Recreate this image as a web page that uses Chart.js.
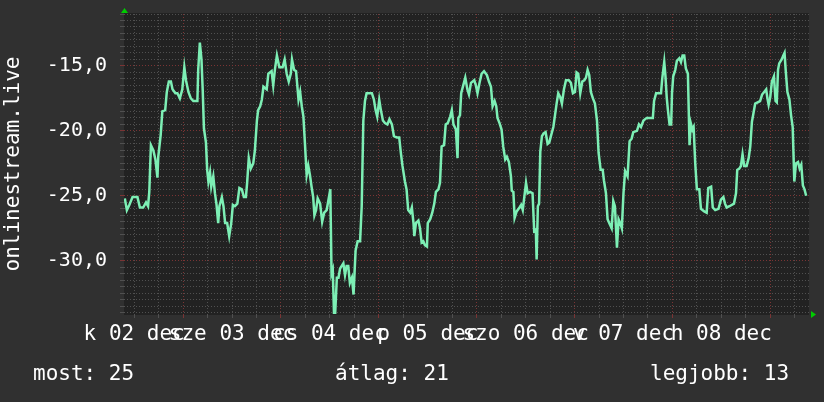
<!DOCTYPE html>
<html>
<head>
<meta charset="utf-8">
<script src="https://cdn.jsdelivr.net/npm/chart.js@4.4.1/dist/chart.umd.min.js"></script>
<style>
  html, body { margin: 0; padding: 0; background: #303030; }
  #wrap { position: relative; width: 824px; height: 402px; }
  canvas { display: block; }
  .stat { position: absolute; top: 363px; font: 21px/1 "DejaVu Sans Mono", monospace; color: #fff; white-space: pre; }
</style>
</head>
<body>
<div id="wrap">
  <canvas id="grafica" width="824" height="402"></canvas>
  <div class="stat" id="stat0" style="left:33px"></div>
  <div class="stat" id="stat1" style="left:335px"></div>
  <div class="stat" id="stat2" style="left:650px"></div>
</div>
<script>
// hours since 2 dec 00:00
const hours = [
  9.7,10.2,10.8,11.6,12.8,13.4,14.2,14.9,15.4,15.7,16.1,16.7,17.2,17.7,17.9,18.5,18.9,19.6,20.0,20.5,
  21.0,21.4,22.1,22.6,23.2,23.8,24.3,24.7,25.3,25.9,26.5,27.5,27.7,28.1,28.5,28.8,29.1,29.6,29.9,30.2,
  30.6,30.9,31.4,31.8,32.2,32.6,32.9,33.5,33.9,34.3,34.8,35.3,35.8,36.2,36.7,37.3,37.8,38.4,38.9,39.4,
  39.7,40.1,40.6,41.2,41.6,42.1,42.4,42.9,43.3,43.7,44.5,44.9,45.7,46.1,46.5,47.0,47.6,48.4,48.9,49.4,
  49.9,50.4,50.7,51.2,51.7,52.3,
  52.7,53.1,53.5,53.9,54.3,54.7,55.1,55.5,55.9,56.2,56.6,57.0,57.6,58.1,58.6,59.2,59.6,60.1,60.4,60.7,
  61.0,61.3,61.7,62.1,62.5,62.9,63.3,63.7,64.1,64.5,64.9,65.4,65.8,66.0,66.3,66.8,67.4,67.8,68.2,68.6,
  69.0,69.6,70.3,70.8,71.2,71.6,72.1,72.5,73.0,73.5,74.1,74.6,75.2,75.7,76.4,77.0,77.4,77.8,78.4,78.8,
  79.2,79.7,80.1,80.5,80.7,81.1,81.7,82.1,82.5,82.9,83.3,83.8,84.0,84.6,85.1,85.6,86.0,86.6,87.0,87.4,
  88.0,88.4,88.9,89.5,89.9,90.3,90.9,91.3,91.5,91.9,92.2,92.7,93.2,93.7,94.1,94.6,
  95.4,95.8,96.2,96.7,97.2,97.8,98.5,99.0,99.5,99.9,100.4,100.8,101.1,101.6,102.1,102.5,103.0,103.4,103.9,104.4,
  104.6,105.0,105.3,105.8,106.5,106.9,107.3,107.6,108.1,108.5,109.1,109.7,110.1,110.5,110.7,111.0,111.3,111.6,112.0,112.4,
  112.9,113.4,113.8,114.2,114.8,115.2,115.6,116.0,116.5,116.9,117.4,117.9,118.6,119.1,119.6,120.1,120.5,120.9,121.4,121.9,
  122.4,122.8,123.2,123.6,124.0,124.5,125.0,125.5,125.9,126.4,126.9,127.2,127.7,128.1,128.5,129.1,129.5,129.9,130.4,130.8,
  131.2,131.6,132.0,132.4,133.0,133.5,134.0,134.4,135.3,135.8,136.3,136.9,
  137.7,139.2,139.5,140.0,140.6,141.2,141.5,142.0,142.3,142.6,142.9,143.3,143.7,143.9,144.2,144.7,145.1,145.7,146.1,146.5,
  146.9,147.3,147.8,148.2,148.5,148.9,149.2,149.6,150.0,150.6,151.0,151.8,152.4,152.8,153.5,153.9,154.5,155.3,155.9,156.5,
  156.9,157.3,158.0,159.1,159.6,159.9,160.4,160.8,161.2,161.6,162.2,162.7,163.1,163.5,163.9,164.3,164.9,165.5,166.0,166.5,
  167.0,167.3,167.6,168.0,168.4,168.9,169.3,169.6,169.9,170.2,170.8,171.2,171.5,171.8,172.2,172.7,173.1,173.5,173.9,174.3,
  174.8,175.2,175.6,176.0,176.4,176.8
];

const valores = [
  -25.2,-26.1,-25.7,-25.1,-25.1,-25.9,-25.9,-25.5,-25.8,-24.7,-21.1,-21.5,-22.2,-23.6,-22.0,-20.3,-18.5,-18.4,-17.0,-16.2,
  -16.2,-16.8,-17.1,-17.1,-17.5,-16.8,-15.1,-16.1,-17.0,-17.5,-17.7,-17.7,-15.3,-13.2,-14.5,-16.8,-19.8,-20.9,-23.0,-23.9,
  -23.2,-24.3,-23.5,-24.8,-25.7,-27.1,-25.8,-25.1,-25.8,-27.1,-27.1,-28.1,-27.1,-25.7,-25.8,-25.6,-24.4,-24.5,-25.1,-25.1,
  -24.0,-22.1,-22.9,-22.5,-21.5,-19.2,-18.4,-18.1,-17.6,-16.6,-16.8,-15.6,-15.4,-16.5,-15.3,-14.2,-15.1,-15.1,-14.5,-15.6,
  -16.2,-15.6,-14.5,-15.3,-15.4,-17.6,
  -17.0,-18.1,-18.9,-21.1,-23.4,-22.7,-23.4,-24.3,-25.1,-26.5,-26.1,-25.2,-25.6,-27.0,-26.3,-26.1,-25.4,-24.5,-31.0,-30.7,
  -34.0,-34.0,-31.3,-31.3,-30.6,-30.4,-30.2,-31.1,-30.4,-30.4,-31.7,-31.3,-32.6,-31.2,-29.2,-28.5,-28.5,-25.8,-19.2,-17.7,
  -17.1,-17.1,-17.1,-17.6,-18.4,-18.9,-17.6,-18.4,-19.2,-19.4,-19.5,-19.1,-19.5,-20.4,-20.5,-20.5,-21.7,-22.7,-23.9,-24.5,
  -26.1,-26.3,-25.9,-27.1,-28.1,-27.1,-26.9,-27.5,-28.6,-28.5,-28.8,-28.9,-27.1,-26.8,-26.3,-25.6,-24.7,-24.5,-24.0,-21.2,
  -21.1,-19.5,-19.4,-18.9,-18.4,-19.5,-19.9,-22.1,-19.0,-18.8,-17.1,-16.5,-15.9,-16.8,-17.2,-16.3,
  -16.1,-16.5,-17.1,-16.3,-15.6,-15.4,-15.7,-16.2,-16.6,-18.1,-17.7,-18.1,-19.0,-19.4,-19.9,-21.2,-22.2,-22.0,-22.4,-23.5,
  -24.6,-24.7,-26.7,-26.2,-25.9,-25.7,-26.1,-25.3,-24.0,-24.8,-24.7,-24.8,-27.7,-27.6,-29.9,-25.8,-25.6,-21.6,-20.4,-20.2,
  -20.1,-21.0,-20.9,-20.4,-19.7,-18.8,-17.9,-17.1,-17.4,-17.9,-16.8,-16.1,-16.1,-16.3,-17.1,-17.0,-15.5,-15.6,-17.1,-16.2,
  -16.1,-15.9,-15.3,-15.7,-17.0,-17.5,-17.9,-19.2,-21.7,-23.0,-23.0,-23.8,-24.8,-26.8,-27.1,-27.5,-25.4,-25.8,-29.0,-26.8,
  -27.1,-27.5,-24.8,-23.1,-23.5,-20.8,-20.6,-20.1,-20.0,-19.5,-19.7,-19.2,
  -19.0,-19.0,-17.7,-17.1,-17.1,-17.1,-16.0,-14.7,-15.8,-17.4,-18.4,-19.5,-19.5,-17.1,-15.8,-15.3,-14.6,-14.4,-14.7,-14.2,
  -14.2,-15.2,-15.6,-21.1,-19.4,-19.9,-19.7,-22.5,-24.5,-24.5,-26.0,-26.2,-26.3,-24.4,-24.3,-25.9,-26.1,-26.0,-25.3,-25.1,
  -25.6,-25.9,-25.8,-25.6,-24.8,-23.0,-22.9,-22.7,-21.8,-22.7,-22.7,-22.1,-21.2,-19.3,-18.6,-17.9,-17.8,-17.7,-17.2,-17.0,
  -16.8,-17.5,-18.0,-17.4,-16.2,-15.8,-17.7,-17.8,-15.3,-14.8,-14.5,-14.2,-14.0,-15.4,-17.0,-17.6,-18.8,-19.7,-23.9,-22.5,
  -22.4,-22.9,-22.6,-24.2,-24.5,-25.0
];

// x tick labels (noon of each day)
const diasHoras = [12, 36, 60, 84, 108, 132, 156];
const diasLabels = ['k 02 dec', 'sze 03 dec', 'cs 04 dec', 'p 05 dec', 'szo 06 dec', 'v 07 dec', 'h 08 dec'];

// y tick labels
const yMayores = [-15, -20, -25, -30];
const yLabels = ['-15,0', '-20,0', '-25,0', '-30,0'];

const statLabels = ['most', 'átlag', 'legjobb'];
const statValores = [25, 21, 13];

const tituloY = 'onlinestream.live';

statLabels.forEach((l, i) => {
  document.getElementById('stat' + i).textContent = l + ': ' + statValores[i];
});

Chart.defaults.font.family = "'DejaVu Sans Mono', monospace";
Chart.defaults.color = '#ffffff';

const fondo = {
  id: 'fondo',
  beforeDraw(chart) {
    const { ctx, chartArea: a } = chart;
    ctx.save();
    ctx.fillStyle = '#222222';
    ctx.fillRect(a.left, a.top - 1, a.width, a.height + 2);
    ctx.restore();
  }
};

const flechas = {
  id: 'flechas',
  afterDraw(chart) {
    const { ctx, chartArea: a } = chart;
    ctx.save();
    ctx.fillStyle = '#00cc00';
    ctx.beginPath();
    ctx.moveTo(a.left - 3, a.top - 1);
    ctx.lineTo(a.left + 4, a.top - 1);
    ctx.lineTo(a.left + 0.5, a.top - 6);
    ctx.fill();
    ctx.beginPath();
    ctx.moveTo(a.right + 2, a.bottom - 3);
    ctx.lineTo(a.right + 2, a.bottom + 4);
    ctx.lineTo(a.right + 7, a.bottom + 0.5);
    ctx.fill();
    ctx.restore();
  }
};

const rojo = '#7a3434';
const gris = '#505050';

new Chart(document.getElementById('grafica'), {
  type: 'line',
  data: {
    datasets: [{
      data: hours.map((h, i) => ({ x: h, y: valores[i] })),
      borderColor: '#7defb5',
      borderWidth: 2.5,
      pointRadius: 0,
      tension: 0,
      fill: false
    }]
  },
  options: {
    responsive: false,
    animation: false,
    layout: { padding: { top: 14, right: 15, bottom: 58, left: 0 } },
    plugins: { legend: { display: false }, tooltip: { enabled: false } },
    scales: {
      x: {
        type: 'linear',
        min: 9.5,
        max: 177.5,
        afterBuildTicks: s => {
          const t = [];
          for (let h = 12; h <= 174; h += 6) t.push({ value: h });
          s.ticks = t;
        },
        afterFit: s => { s.height = 30; },
        ticks: {
          autoSkip: false,
          maxRotation: 0,
          minRotation: 0,
          padding: 4,
          font: { size: 21 },
          callback: v => {
            const i = diasHoras.indexOf(v);
            return i >= 0 ? diasLabels[i] : '';
          }
        },
        grid: {
          color: c => (c.tick && c.tick.value % 24 === 0) ? rojo : gris,
          tickLength: 4
        },
        border: { display: false, dash: [1, 2] }
      },
      y: {
        min: -34.1,
        max: -11,
        afterBuildTicks: s => {
          const t = [];
          for (let v = -34; v <= -11; v += 0.5) t.push({ value: v });
          s.ticks = t;
        },
        afterFit: s => {
          s.width = 124;
          s.paddingTop = 0;
          s.paddingBottom = 0;
        },
        ticks: {
          autoSkip: false,
          padding: 13,
          font: { size: 20 },
          callback: v => {
            const i = yMayores.indexOf(v);
            return i >= 0 ? yLabels[i] : '';
          }
        },
        grid: {
          color: c => (c.tick && yMayores.includes(c.tick.value)) ? rojo : gris,
          tickLength: 4
        },
        border: { display: false, dash: [1, 2] },
        title: {
          display: true,
          text: tituloY,
          font: { size: 21 },
          padding: { top: 1, bottom: 0 }
        }
      }
    }
  },
  plugins: [fondo, flechas]
});
</script>
</body>
</html>
